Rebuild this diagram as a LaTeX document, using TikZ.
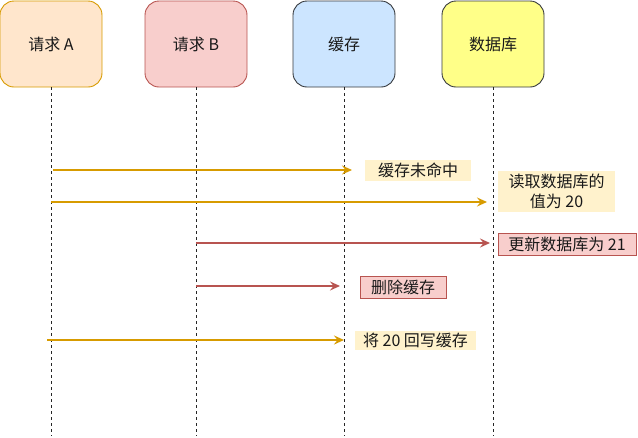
\documentclass[tikz,border=0pt]{standalone}
\usepackage{fontspec}
\setmainfont{Noto Sans CJK SC}
\usetikzlibrary{arrows.meta}
\definecolor{oFill}{HTML}{FFE6CC}
\definecolor{oLine}{HTML}{D79B00}
\definecolor{rFill}{HTML}{F8CECC}
\definecolor{rLine}{HTML}{B85450}
\definecolor{bFill}{HTML}{CCE5FF}
\definecolor{yFill}{HTML}{FFFF88}
\definecolor{gLine}{HTML}{36393D}
\definecolor{lblFill}{HTML}{FFF2CC}
\tikzset{
  actor/.style={draw, line width=0.9pt, rounded corners=14pt, minimum width=102pt, minimum height=86pt, inner sep=0pt, font=\fontsize{16}{19}\selectfont, text=black!90},
  life/.style={draw=black!85, line width=0.9pt, dash pattern=on 3pt off 3pt},
  omsg/.style={draw=oLine, line width=1.6pt, -{Stealth[length=10pt,width=9pt,inset=3.5pt]}},
  rmsg/.style={draw=rLine, line width=1.6pt, -{Stealth[length=10pt,width=9pt,inset=3.5pt]}},
  ylbl/.style={fill=lblFill, inner sep=0pt, font=\fontsize{16}{20}\selectfont, text=black!90, align=center},
  rlbl/.style={fill=rFill, draw=rLine, line width=0.9pt, inner sep=0pt, font=\fontsize{16}{20}\selectfont, text=black!90, align=center},
}
\begin{document}
\begin{tikzpicture}[x=1pt,y=-1pt]
\useasboundingbox (0,0) rectangle (638,437);
% actors
\node[actor, fill=oFill, draw=oLine] (A) at (51,44) {请求 A};
\node[actor, fill=rFill, draw=rLine] (B) at (196,44) {请求 B};
\node[actor, fill=bFill, draw=gLine] (C) at (344,44) {缓存};
\node[actor, fill=yFill, draw=gLine] (D) at (493,44) {数据库};
% lifeline ends
\coordinate (Ae) at (51,436);
\coordinate (Be) at (196,436);
\coordinate (Ce) at (344,436);
\coordinate (De) at (493,436);
\draw[life] (A.south) -- (Ae);
\draw[life] (B.south) -- (Be);
\draw[life] (C.south) -- (Ce);
\draw[life] (D.south) -- (De);
% message endpoints
\coordinate (m1s) at (53,170);  \coordinate (m1e) at (352,170);
\coordinate (m2s) at (51,202);  \coordinate (m2e) at (487,202);
\coordinate (m3s) at (196,243); \coordinate (m3e) at (490,243);
\coordinate (m4s) at (196,286); \coordinate (m4e) at (340,286);
\coordinate (m5s) at (47,340);  \coordinate (m5e) at (344,340);
\draw[omsg] (m1s) -- (m1e);
\draw[omsg] (m2s) -- (m2e);
\draw[rmsg] (m3s) -- (m3e);
\draw[rmsg] (m4s) -- (m4e);
\draw[omsg] (m5s) -- (m5e);
% labels
\node[ylbl, minimum width=106pt, minimum height=21pt] (L1) at (418,170.5) {缓存未命中};
\node[ylbl, minimum width=117pt, minimum height=41pt] (L2) at (556.5,191.5) {读取数据库的\\值为 20};
\node[rlbl, minimum width=138pt, minimum height=22pt] (L3) at (567,244) {更新数据库为 21};
\node[rlbl, minimum width=86pt, minimum height=22pt] (L4) at (403,287) {删除缓存};
\node[ylbl, minimum width=121pt, minimum height=19pt] (L5) at (415.5,340.5) {将 20 回写缓存};
\end{tikzpicture}
\end{document}
